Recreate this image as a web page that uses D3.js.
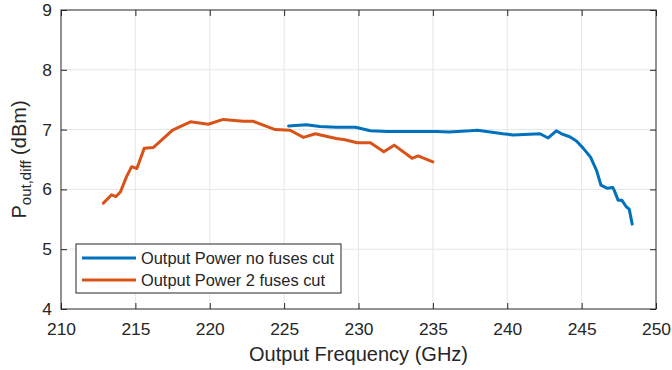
<!DOCTYPE html>
<meta charset="utf-8">
<style>
body { margin: 0; background: #fff; }
text { font-family: "Liberation Sans", Arial, sans-serif; fill: #262626; }
.grid line { stroke: #e6e6e6; stroke-width: 1; }
.line { fill: none; stroke-width: 3px; stroke-linejoin: round; stroke-linecap: round; }
</style>
<svg width="672" height="370"></svg>
<script src="https://cdn.jsdelivr.net/npm/d3@7"></script>
<script>

var xTicks = [210, 215, 220, 225, 230, 235, 240, 245, 250],
    yTicks = [4, 5, 6, 7, 8, 9];

var noCutFreq = [225.3, 226.5, 227.4, 228.5, 229.8, 230.8, 231.9, 233.0, 235.2, 236.1, 237.5, 238.0,
                 239.7, 240.4, 242.2, 242.75, 243.3, 243.65, 244.2, 244.65, 245.1, 245.6, 246.0, 246.3,
                 246.7, 247.1, 247.2, 247.45, 247.7, 248.0, 248.2, 248.4],
    noCutPower = [7.06, 7.08, 7.05, 7.04, 7.04, 6.98, 6.97, 6.97, 6.97, 6.96, 6.98, 6.99,
                  6.93, 6.91, 6.93, 6.86, 6.98, 6.93, 6.88, 6.81, 6.69, 6.54, 6.32, 6.07,
                  6.02, 6.03, 5.98, 5.82, 5.82, 5.71, 5.67, 5.42];

var cut2Freq = [212.85, 213.4, 213.7, 214.0, 214.4, 214.75, 215.1, 215.6, 216.2, 217.5, 218.7, 219.9,
                220.9, 222.25, 222.9, 224.4, 225.4, 226.3, 227.1, 227.6, 228.5, 229.1, 229.9, 230.8,
                231.7, 232.4, 233.6, 234.0, 235.0],
    cut2Power = [5.77, 5.91, 5.88, 5.96, 6.21, 6.38, 6.35, 6.69, 6.70, 6.99, 7.13, 7.09,
                 7.17, 7.14, 7.14, 7.00, 6.99, 6.87, 6.93, 6.90, 6.85, 6.83, 6.78, 6.78,
                 6.63, 6.74, 6.52, 6.56, 6.46];

var series = [
  {name: "Output Power no fuses cut", color: "#0072BD", f: noCutFreq, p: noCutPower},
  {name: "Output Power 2 fuses cut", color: "#D95319", f: cut2Freq, p: cut2Power}
];

var svg = d3.select("svg"),
    margin = {top: 10, right: 16, bottom: 61, left: 61},
    width = 672 - margin.left - margin.right,
    height = 370 - margin.top - margin.bottom,
    g = svg.append("g").attr("transform", "translate(" + margin.left + "," + margin.top + ")");

var x = d3.scaleLinear().domain([210, 250]).range([0, width]);
var y = d3.scaleLinear().domain([4, 9]).range([height, 0]);

// grid
var grid = g.append("g").attr("class", "grid");
grid.selectAll(".gx").data(xTicks.slice(1, -1)).enter().append("line")
    .attr("x1", x).attr("x2", x).attr("y1", 0).attr("y2", height);
grid.selectAll(".gy").data(yTicks.slice(1, -1)).enter().append("line")
    .attr("y1", y).attr("y2", y).attr("x1", 0).attr("x2", width);

// lines
var line = d3.line()
    .x(function(d) { return x(d[0]); })
    .y(function(d) { return y(d[1]); });

g.selectAll(".line").data(series).enter().append("path")
    .attr("class", "line")
    .attr("stroke", function(d) { return d.color; })
    .attr("d", function(d) { return line(d3.zip(d.f, d.p)); });

// axes (ticks inward, box on)
function styleAxis(sel) {
  sel.select(".domain").remove();
  sel.selectAll(".tick line").attr("stroke", "#262626");
  sel.selectAll(".tick text").attr("fill", "#262626");
}

g.append("g")
    .attr("transform", "translate(0," + height + ")")
    .call(d3.axisBottom(x).tickValues(xTicks).tickSizeInner(-6).tickSizeOuter(0).tickPadding(14))
    .call(styleAxis)
    .selectAll("text").style("font-size", "17.4px").attr("font-family", null);

g.append("g")
    .call(d3.axisTop(x).tickValues(xTicks).tickSizeInner(-6).tickSizeOuter(0).tickFormat(""))
    .call(styleAxis);

g.append("g")
    .call(d3.axisLeft(y).tickValues(yTicks).tickFormat(d3.format("d"))
      .tickSizeInner(-6).tickSizeOuter(0).tickPadding(9))
    .call(styleAxis)
    .selectAll("text").style("font-size", "17.4px").attr("font-family", null);

g.append("g")
    .attr("transform", "translate(" + width + ",0)")
    .call(d3.axisRight(y).tickValues(yTicks).tickSizeInner(-6).tickSizeOuter(0).tickFormat(""))
    .call(styleAxis);

g.append("rect")
    .attr("width", width).attr("height", height)
    .attr("fill", "none").attr("stroke", "#262626").attr("stroke-width", 1);

// axis labels
svg.append("text")
    .attr("x", margin.left + width / 2)
    .attr("y", 361)
    .attr("text-anchor", "middle")
    .style("font-size", "20px")
    .text("Output Frequency (GHz)");

var yl = svg.append("text")
    .attr("transform", "translate(26," + (margin.top + height / 2) + ") rotate(-90)")
    .attr("text-anchor", "middle")
    .style("font-size", "20px");
yl.append("tspan").text("P");
yl.append("tspan").attr("dy", 5).style("font-size", "15px").text("out,diff");
yl.append("tspan").attr("dy", -5).text(" (dBm)");

// legend
var legend = svg.append("g").attr("transform", "translate(76,244)");
legend.append("rect")
    .attr("width", 265).attr("height", 49)
    .attr("fill", "#fff").attr("stroke", "#262626").attr("stroke-width", 1);

var item = legend.selectAll(".item").data(series).enter().append("g")
    .attr("transform", function(d, i) { return "translate(0," + (14 + i * 22) + ")"; });
item.append("line")
    .attr("x1", 6).attr("x2", 60)
    .attr("stroke", function(d) { return d.color; })
    .attr("stroke-width", 3);
item.append("text")
    .attr("x", 65).attr("dy", "0.35em")
    .style("font-size", "16.4px")
    .text(function(d) { return d.name; });

</script>
